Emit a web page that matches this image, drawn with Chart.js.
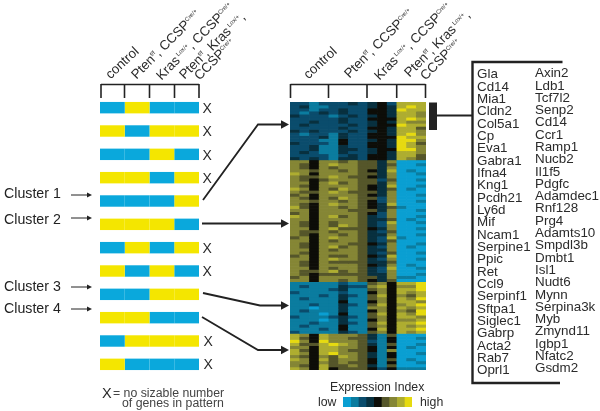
<!DOCTYPE html>
<html><head><meta charset="utf-8">
<script src="https://cdn.jsdelivr.net/npm/chart.js@4"></script>
<style>
html,body{margin:0;padding:0;background:#fff;overflow:hidden}
#stage{position:relative;width:600px;height:411px;overflow:hidden;filter:blur(.35px);font-family:"Liberation Sans",Arial,sans-serif;color:#2b2b2b}
#stage div{position:absolute;white-space:nowrap;line-height:1}
.box canvas{display:block}
.rot{transform-origin:0 100%;font-size:13.3px}
.rot span{font-size:6px;position:relative;top:-5px}
</style></head><body><div id="stage"></div>
<script>
// ---------- data ----------
const patternConditions = ["control","Pten f/f; CCSP Cre/+","Kras Lox/+; CCSP Cre/+","Pten f/f; Kras Lox/+; CCSP Cre/+"];
// 0 = low (blue), 1 = high (yellow), one row per possible pattern
const patternRows = [[0,1,0,0],[1,0,1,1],[0,0,1,0],[1,1,0,1],[0,0,0,1],[1,1,1,0],[0,1,0,1],[1,0,1,0],[0,0,1,1],[1,1,0,0],[0,1,1,1],[1,0,0,0]];
const rejectedRows = [true,true,true,true,false,false,true,true,false,false,true,true];
const clusterNames = ["Cluster 1","Cluster 2","Cluster 3","Cluster 4"];
// expression index per gene row, one digit per sample (0 low ... 8 high)
const clusterOneRows = ["22122232342777","23112222343787","22122322443877","21232322443776","32221232343776","22222322444787","22322322343766","23222232344877","22222322443775","32322232343776","21221322443786","22231322444877","22211422343886","32221422443875","22311322443876","22311332344886","23211322343776","22221232443775","32321332443765"];
const clusterTwoRows = ["66466565536000","65467665535001","65465665536000","66566565437010","76466665536001","65567655436000","65456665525001","66467565536000","65466665437001","76465765435010","65567655536000","56466665436001","65465765526000","66566565426001","65467665437000","75466565435100","66466655536001","56466665426000","76467565326001","66466665335010","65465665327001","65465765326000","66467555436001","65565665325000","65466565336001","56467665327100","66465665325000","65466655436001","65467565326010","66465665336000","65466665325001","56465565437000","66467665326001","65465555335000","65466665436010","66465665327001","65567565326000","65455555336001","56466665536110","66466565435000"];
const clusterThreeRows = ["11111211564778","12111322674668","11112311564778","21111211464767","11121321574657","12111311564768","11111411464776","11211321574678","11011311664767","12111311464658","11101411574768","21112321564776","11101311464667","11211321574778","12111411564767","11121411474778","21111321564767"];
const clusterFourRows = ["76476665315000","75476655314001","86486665214000","75578765315001","66477665414010","75477655416000","76478665314001","65465765314000","76475665415010","66465655414001","65475565315000","76474555424111"];
const sampleCount = 14;
const legendLevels = [0,1,2,3,4,5,6,7,8];
const geneColumnOne = ["Gla","Cd14","Mia1","Cldn2","Col5a1","Cp","Eva1","Gabra1","Ifna4","Kng1","Pcdh21","Ly6d","Mif","Ncam1","Serpine1","Ppic","Ret","Ccl9","Serpinf1","Sftpa1","Siglec1","Gabrp","Acta2","Rab7","Oprl1"];
const geneColumnTwo = ["Axin2","Ldb1","Tcf7l2","Senp2","Cd14","Ccr1","Ramp1","Nucb2","Il1f5","Pdgfc","Adamdec1","Rnf128","Prg4","Adamts10","Smpdl3b","Dmbt1","Isl1","Nudt6","Mynn","Serpina3k","Myb","Zmynd11","Igbp1","Nfatc2","Gsdm2"];

// ---------- styles ----------
const palette = ["#0a9fd2","#0b7c9f","#0a4c6c","#08303f","#0d0d08","#55562a","#858635","#aead30","#e6da10"];
const LOW = "#0aa8dc", HIGH = "#f4e600", INK = "#222";
const stage = document.getElementById("stage");
Chart.defaults.animation = false;
Chart.defaults.responsive = false;

function box(x,y,w,h,css){
  const d=document.createElement("div");d.className="box";
  d.style.cssText=`left:${x}px;top:${y}px;width:${w}px;height:${h}px;${css||""}`;
  const c=document.createElement("canvas");c.width=w;c.height=h;d.appendChild(c);stage.appendChild(d);return c;
}
function text(html,x,y,size,extra){
  const d=document.createElement("div");d.innerHTML=html;
  d.style.cssText=`left:${x}px;top:${y-size/2}px;font-size:${size}px;${extra||""}`;stage.appendChild(d);return d;
}
function rotated(html,x,y,deg){
  const d=document.createElement("div");d.className="rot";d.innerHTML=html;
  d.style.left=x+"px";d.style.bottom=(411-y)+"px";d.style.transform=`rotate(${deg}deg)`;stage.appendChild(d);
}
const hiddenAxis = {display:false,grid:{display:false},ticks:{display:false},border:{display:false}};
const bare = {legend:{display:false},tooltip:{enabled:false},title:{display:false}};

// ---------- pattern bars ----------
new Chart(box(100,96,99,280),{
  type:"bar",
  data:{
    labels:patternRows.map((_,i)=>"pattern "+(i+1)),
    datasets:patternConditions.map((name,c)=>({
      label:name,
      data:patternRows.map(()=>1),
      backgroundColor:patternRows.map(r=>r[c]?HIGH:LOW),
      barPercentage:.49,categoryPercentage:1,borderWidth:0
    }))
  },
  options:{indexAxis:"y",layout:{padding:0},plugins:bare,
    scales:{x:{...hiddenAxis,stacked:true,min:0,max:patternConditions.length},y:{...hiddenAxis,stacked:true}}}
});

// ---------- heat map ----------
const heatRows = [...clusterOneRows,...clusterTwoRows,...clusterThreeRows,...clusterFourRows];
new Chart(box(290,102,136,268,"filter:blur(.7px)"),{
  type:"bar",
  data:{
    labels:Array.from({length:sampleCount},(_,i)=>"sample "+(i+1)),
    datasets:heatRows.map((row,i)=>({
      label:"gene "+(i+1),
      data:Array.from({length:sampleCount},()=>1),
      backgroundColor:row.split("").map(v=>palette[+v]),
      barPercentage:1,categoryPercentage:1,borderWidth:0
    }))
  },
  options:{layout:{padding:0},plugins:bare,
    scales:{x:{...hiddenAxis,stacked:true},y:{...hiddenAxis,stacked:true,reverse:true,min:0,max:heatRows.length}}}
});

// ---------- colour key ----------
new Chart(box(343,397,69,10),{
  type:"bar",
  data:{labels:["Expression Index"],datasets:legendLevels.map(l=>({
    label:String(l),data:[1],backgroundColor:palette[l],barPercentage:1,categoryPercentage:1,borderWidth:0}))},
  options:{indexAxis:"y",layout:{padding:0},plugins:bare,
    scales:{x:{...hiddenAxis,stacked:true,min:0,max:legendLevels.length},y:{...hiddenAxis,stacked:true}}}
});

// ---------- brackets, connectors ----------
const decorate = {id:"decorate",afterDraw(ch){
  const g=ch.ctx;g.save();g.strokeStyle=INK;g.fillStyle=INK;g.lineJoin="miter";
  const line=(pts,w)=>{g.lineWidth=w;g.beginPath();pts.forEach((p,i)=>i?g.lineTo(p[0],p[1]):g.moveTo(p[0],p[1]));g.stroke();};
  const head=(x,y,l,h)=>{g.beginPath();g.moveTo(x,y);g.lineTo(x-l,y-h);g.lineTo(x-l,y+h);g.closePath();g.fill();};
  // group brackets
  [[101,124.5,149.5,174.5,199],[290.5,328.5,367,396.7,425.5]].forEach(xs=>{
    line([[xs[0],84.5],[xs[4],84.5]],1.6);
    xs.forEach(x=>line([[x,84],[x,98]],1.6));
  });
  // connectors
  [[[203,200],[258,124.5],[282,124.5]],[[202,223.5],[282,223.5]],[[203,293],[260,305.5],[282,305.5]],[[202,317],[258,350],[282,350]]]
    .forEach(p=>{line(p,1.8);const e=p[p.length-1];head(289,e[1],8,4.2);});
  // cluster arrows
  [195,218,287,309].forEach(y=>{line([[71,y],[88,y]],1);head(92,y,5,2.4);});
  // gene list bracket
  g.fillRect(429,102.5,8,27.5);
  line([[436,115.5],[472,115.5]],2);
  line([[562.5,62],[472.5,62],[472.5,383],[560,383]],2.4);
  g.restore();
}};
new Chart(box(0,0,600,411),{type:"scatter",data:{datasets:[]},plugins:[decorate],
  options:{layout:{padding:0},plugins:bare,scales:{x:hiddenAxis,y:hiddenAxis}}});

// ---------- text ----------
const sup=s=>`<span>${s}</span>`;
const headLabels = at => [
  ["control",at.c[0],at.c[1],-43],
  [`Pten${sup("f/f")}, CCSP${sup("Cre/+")}`,at.p[0],at.p[1],-45],
  [`Kras${sup(" Lox/+")}, CCSP${sup("Cre/+")}`,at.k[0],at.k[1],-45],
  [`Pten${sup("f/f")}, Kras${sup(" Lox/+")},`,at.b[0],at.b[1],-45],
  [`CCSP${sup("Cre/+")}`,at.s[0],at.s[1],-45]
];
headLabels({c:[112,81],p:[138,81],k:[163,82],b:[186,81],s:[201,82]}).forEach(a=>rotated(...a));
headLabels({c:[310,81],p:[351,80],k:[381,82],b:[411,79],s:[427,82]}).forEach(a=>rotated(...a));
rejectedRows.forEach((on,i)=>{ if(on) text("X",i>=10?203.5:202.5,108+i*23.3,14); });
clusterNames.forEach((n,i)=>text(n,4,[193,219,286,308][i],14.2,"color:#222"));
geneColumnOne.forEach((g,i)=>text(g,477,74+i*12.33,13.4));
geneColumnTwo.forEach((g,i)=>text(g,535,73+i*12.29,13.4));
text("X",102,393,14.5);
text("= no sizable number",113,393,12.3,"color:#444");
text("of genes in pattern",122,403.5,12.3,"color:#444");
text("Expression Index",330,387,12.3);
text("low",318,402,12.3);
text("high",420,402,12.3);
</script></body></html>
